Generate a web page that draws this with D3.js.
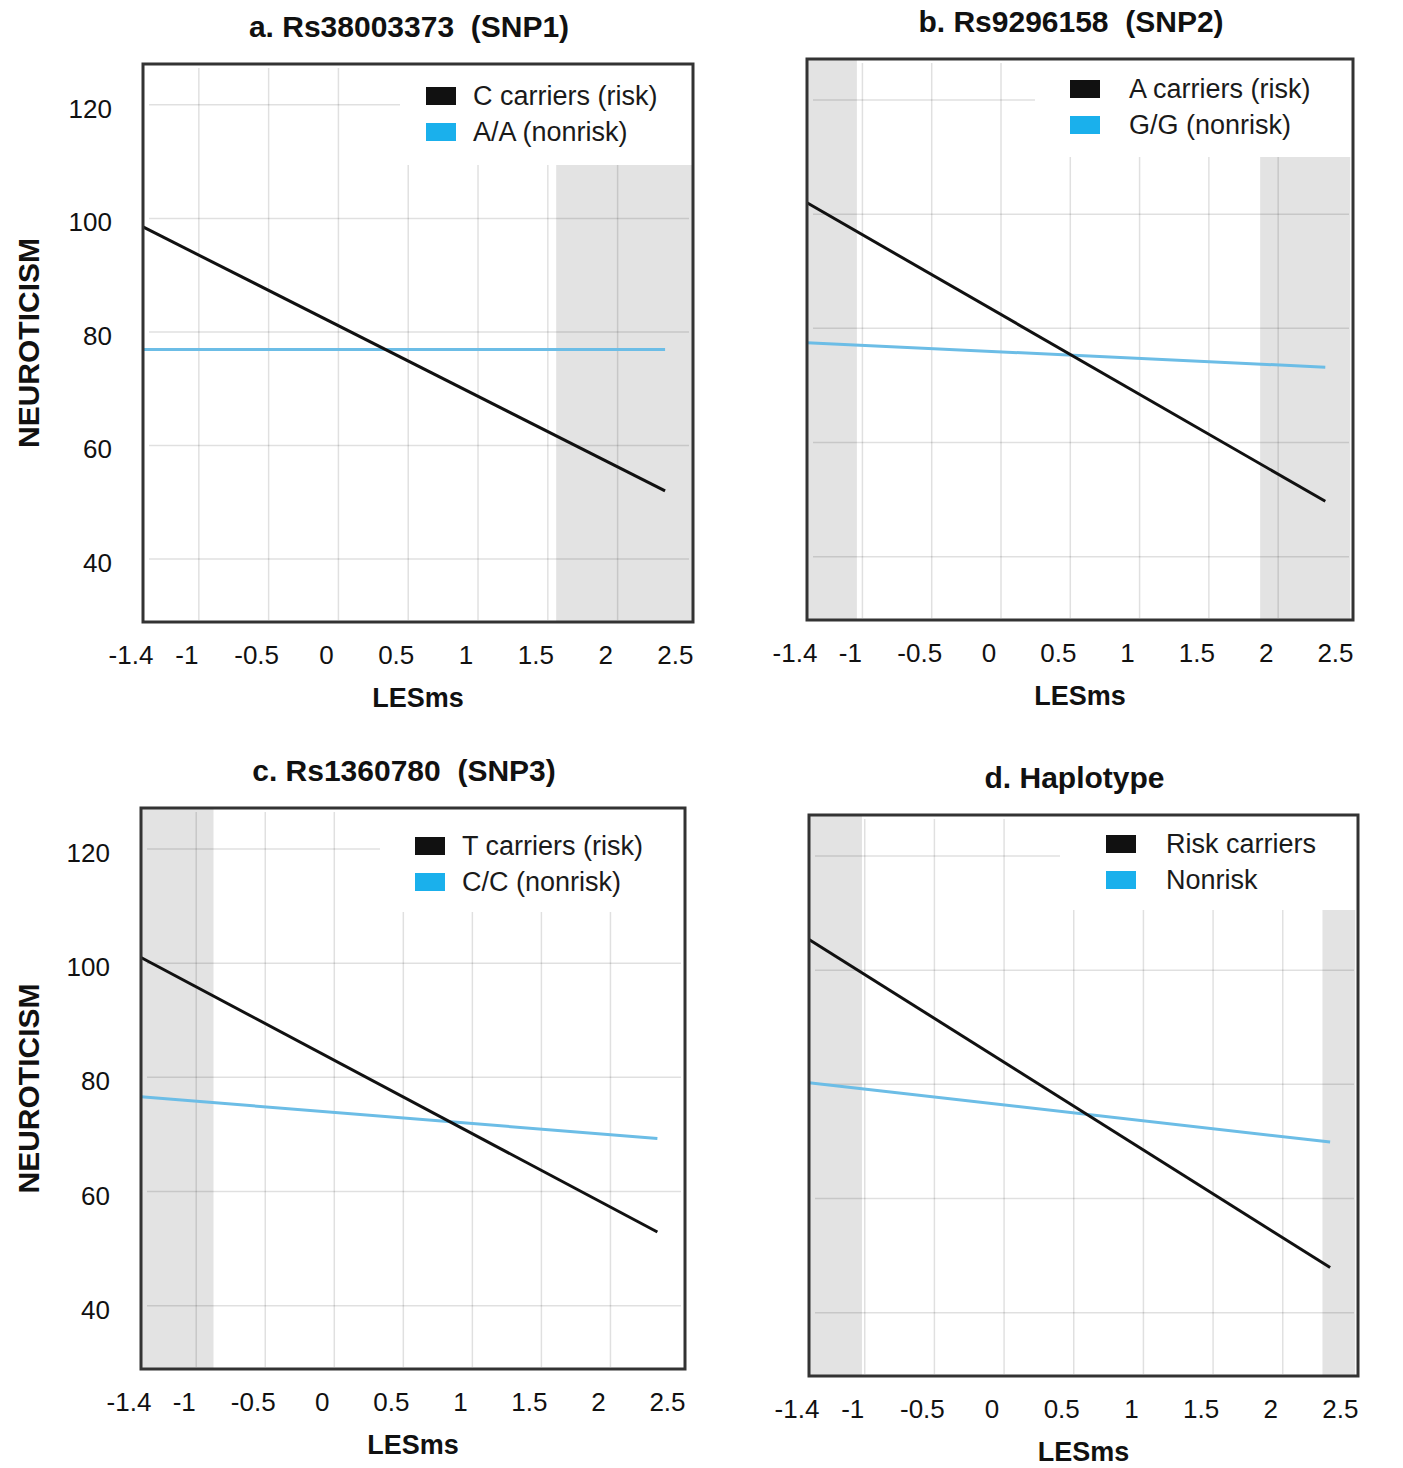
<!DOCTYPE html>
<html>
<head>
<meta charset="utf-8">
<script src="https://cdn.jsdelivr.net/npm/d3@7"></script>
<style>
  body { margin: 0; background: #fff; }
  svg { display: block; font-family: "Liberation Sans", Arial, sans-serif; }
</style>
</head>
<body>
<div id="chart"></div>
<script>
// Data
const titles = ["a. Rs38003373  (SNP1)", "b. Rs9296158  (SNP2)", "c. Rs1360780  (SNP3)", "d. Haplotype"];
const riskLabels = ["C carriers (risk)", "A carriers (risk)", "T carriers (risk)", "Risk carriers"];
const nonriskLabels = ["A/A (nonrisk)", "G/G (nonrisk)", "C/C (nonrisk)", "Nonrisk"];
const xTicks = [-1.4, -1, -0.5, 0, 0.5, 1, 1.5, 2, 2.5];
const yTicks = [40, 60, 80, 100, 120];
const lesEnds = [-1.4, 2.34];                 // x range of the fitted lines
const riskStart = [98.5, 102, 101, 105.4];
const riskEnd = [52, 49.7, 52.9, 47.9];
const nonriskStart = [76.9, 77.5, 76.6, 80.3];
const nonriskEnd = [76.9, 73.2, 69.3, 69.9];
// shaded (non-significant) LESms regions per panel
const shaded = [
    [[1.56, 2.54]],
    [[-1.4, -1.04], [1.87, 2.52]],
    [[-1.4, -0.875]],
    [[-1.4, -1.02], [2.285, 2.52]]
];
const xDomain = [-1.4, 2.54];
const yDomain = [28.9, 127.2];

// Layout of each panel (pixels)
const layout = [
    {left: 143, right: 693, top: 64, bottom: 622, yAxis: true, lg: {box: 257, h: 101, sq: 283, sy: 23, tx: 330}},
    {left: 807, right: 1353, top: 59, bottom: 620, yAxis: false, lg: {box: 228, h: 98, sq: 263, sy: 21, tx: 322}},
    {left: 141, right: 685, top: 808, bottom: 1369, yAxis: true, lg: {box: 239, h: 104, sq: 274, sy: 29, tx: 321}},
    {left: 809, right: 1358, top: 815, bottom: 1376, yAxis: false, lg: {box: 251, h: 95, sq: 297, sy: 20, tx: 357}}
];

const riskColor = "#111";
const nonriskLine = "#6cbde6";
const nonriskSwatch = "#1ab0ec";

const svg = d3.select("#chart").append("svg")
    .attr("width", 1403)
    .attr("height", 1468);

svg.append("rect").attr("width", 1403).attr("height", 1468).attr("fill", "#fff");

layout.forEach((p, i) => {
    const x = d3.scaleLinear().domain(xDomain).range([p.left, p.right]);
    const y = d3.scaleLinear().domain(yDomain).range([p.bottom, p.top]);
    const g = svg.append("g");

    // shaded bands
    g.selectAll("rect.band")
        .data(shaded[i])
        .join("rect")
        .attr("class", "band")
        .attr("x", d => x(d[0]))
        .attr("y", p.top)
        .attr("width", d => x(d[1]) - x(d[0]))
        .attr("height", p.bottom - p.top)
        .attr("fill", "#e3e3e3");

    // grid
    g.selectAll("line.vgrid")
        .data(xTicks.filter(t => t > -1.4 && t < 2.5))
        .join("line")
        .attr("x1", d => x(d)).attr("x2", d => x(d))
        .attr("y1", p.top + 4).attr("y2", p.bottom - 2)
        .attr("stroke", "rgba(0,0,0,0.12)")
        .attr("stroke-width", 1.5);

    g.selectAll("line.hgrid")
        .data(yTicks)
        .join("line")
        .attr("x1", p.left + 6).attr("x2", p.right - 4)
        .attr("y1", d => y(d)).attr("y2", d => y(d))
        .attr("stroke", "rgba(0,0,0,0.12)")
        .attr("stroke-width", 1.5);

    // legend background box
    g.append("rect")
        .attr("x", p.left + p.lg.box)
        .attr("y", p.top)
        .attr("width", p.right - p.left - p.lg.box)
        .attr("height", p.lg.h)
        .attr("fill", "#fff");

    // lines
    const line = d3.line().x(d => x(d[0])).y(d => y(d[1]));
    g.append("path")
        .attr("d", line([[lesEnds[0], nonriskStart[i]], [lesEnds[1], nonriskEnd[i]]]))
        .attr("stroke", nonriskLine)
        .attr("stroke-width", 3)
        .attr("fill", "none");
    g.append("path")
        .attr("d", line([[lesEnds[0], riskStart[i]], [lesEnds[1], riskEnd[i]]]))
        .attr("stroke", riskColor)
        .attr("stroke-width", 3)
        .attr("fill", "none");

    // frame
    g.append("rect")
        .attr("x", p.left).attr("y", p.top)
        .attr("width", p.right - p.left).attr("height", p.bottom - p.top)
        .attr("fill", "none")
        .attr("stroke", "#333")
        .attr("stroke-width", 3);

    // legend
    const items = [
        {label: riskLabels[i], color: riskColor},
        {label: nonriskLabels[i], color: nonriskSwatch}
    ];
    const lg = g.selectAll("g.legend")
        .data(items)
        .join("g")
        .attr("transform", (d, k) => `translate(${p.left + p.lg.sq},${p.top + p.lg.sy + k * 36})`);
    lg.append("rect")
        .attr("width", 30).attr("height", 18)
        .attr("fill", d => d.color);
    lg.append("text")
        .attr("x", p.lg.tx - p.lg.sq)
        .attr("y", 18)
        .attr("font-size", 27)
        .attr("fill", "#1a1a1a")
        .text(d => d.label);

    // x tick labels
    g.selectAll("text.xt")
        .data(xTicks)
        .join("text")
        .attr("x", d => x(d) - 12)
        .attr("y", p.bottom + 42)
        .attr("text-anchor", "middle")
        .attr("font-size", 26)
        .attr("fill", "#111")
        .text(d => d);

    // x axis title
    g.append("text")
        .attr("x", (p.left + p.right) / 2)
        .attr("y", p.bottom + 85)
        .attr("text-anchor", "middle")
        .attr("font-size", 27)
        .attr("font-weight", "bold")
        .attr("fill", "#111")
        .text("LESms");

    // panel title
    g.append("text")
        .attr("x", (p.left + p.right) / 2 - 9)
        .attr("y", p.top - 27)
        .attr("text-anchor", "middle")
        .attr("font-size", 30)
        .attr("font-weight", "bold")
        .attr("fill", "#111")
        .style("white-space", "pre")
        .text(titles[i]);

    if (p.yAxis) {
        g.selectAll("text.yt")
            .data(yTicks)
            .join("text")
            .attr("x", p.left - 31)
            .attr("y", d => y(d) + 4)
            .attr("dominant-baseline", "central")
            .attr("text-anchor", "end")
            .attr("font-size", 26)
            .attr("fill", "#111")
            .text(d => d);

        g.append("text")
            .attr("transform", `translate(39,${(p.top + p.bottom) / 2}) rotate(-90)`)
            .attr("text-anchor", "middle")
            .attr("font-size", 30)
            .attr("font-weight", "bold")
            .attr("fill", "#111")
            .text("NEUROTICISM");
    }
});
</script>
</body>
</html>
